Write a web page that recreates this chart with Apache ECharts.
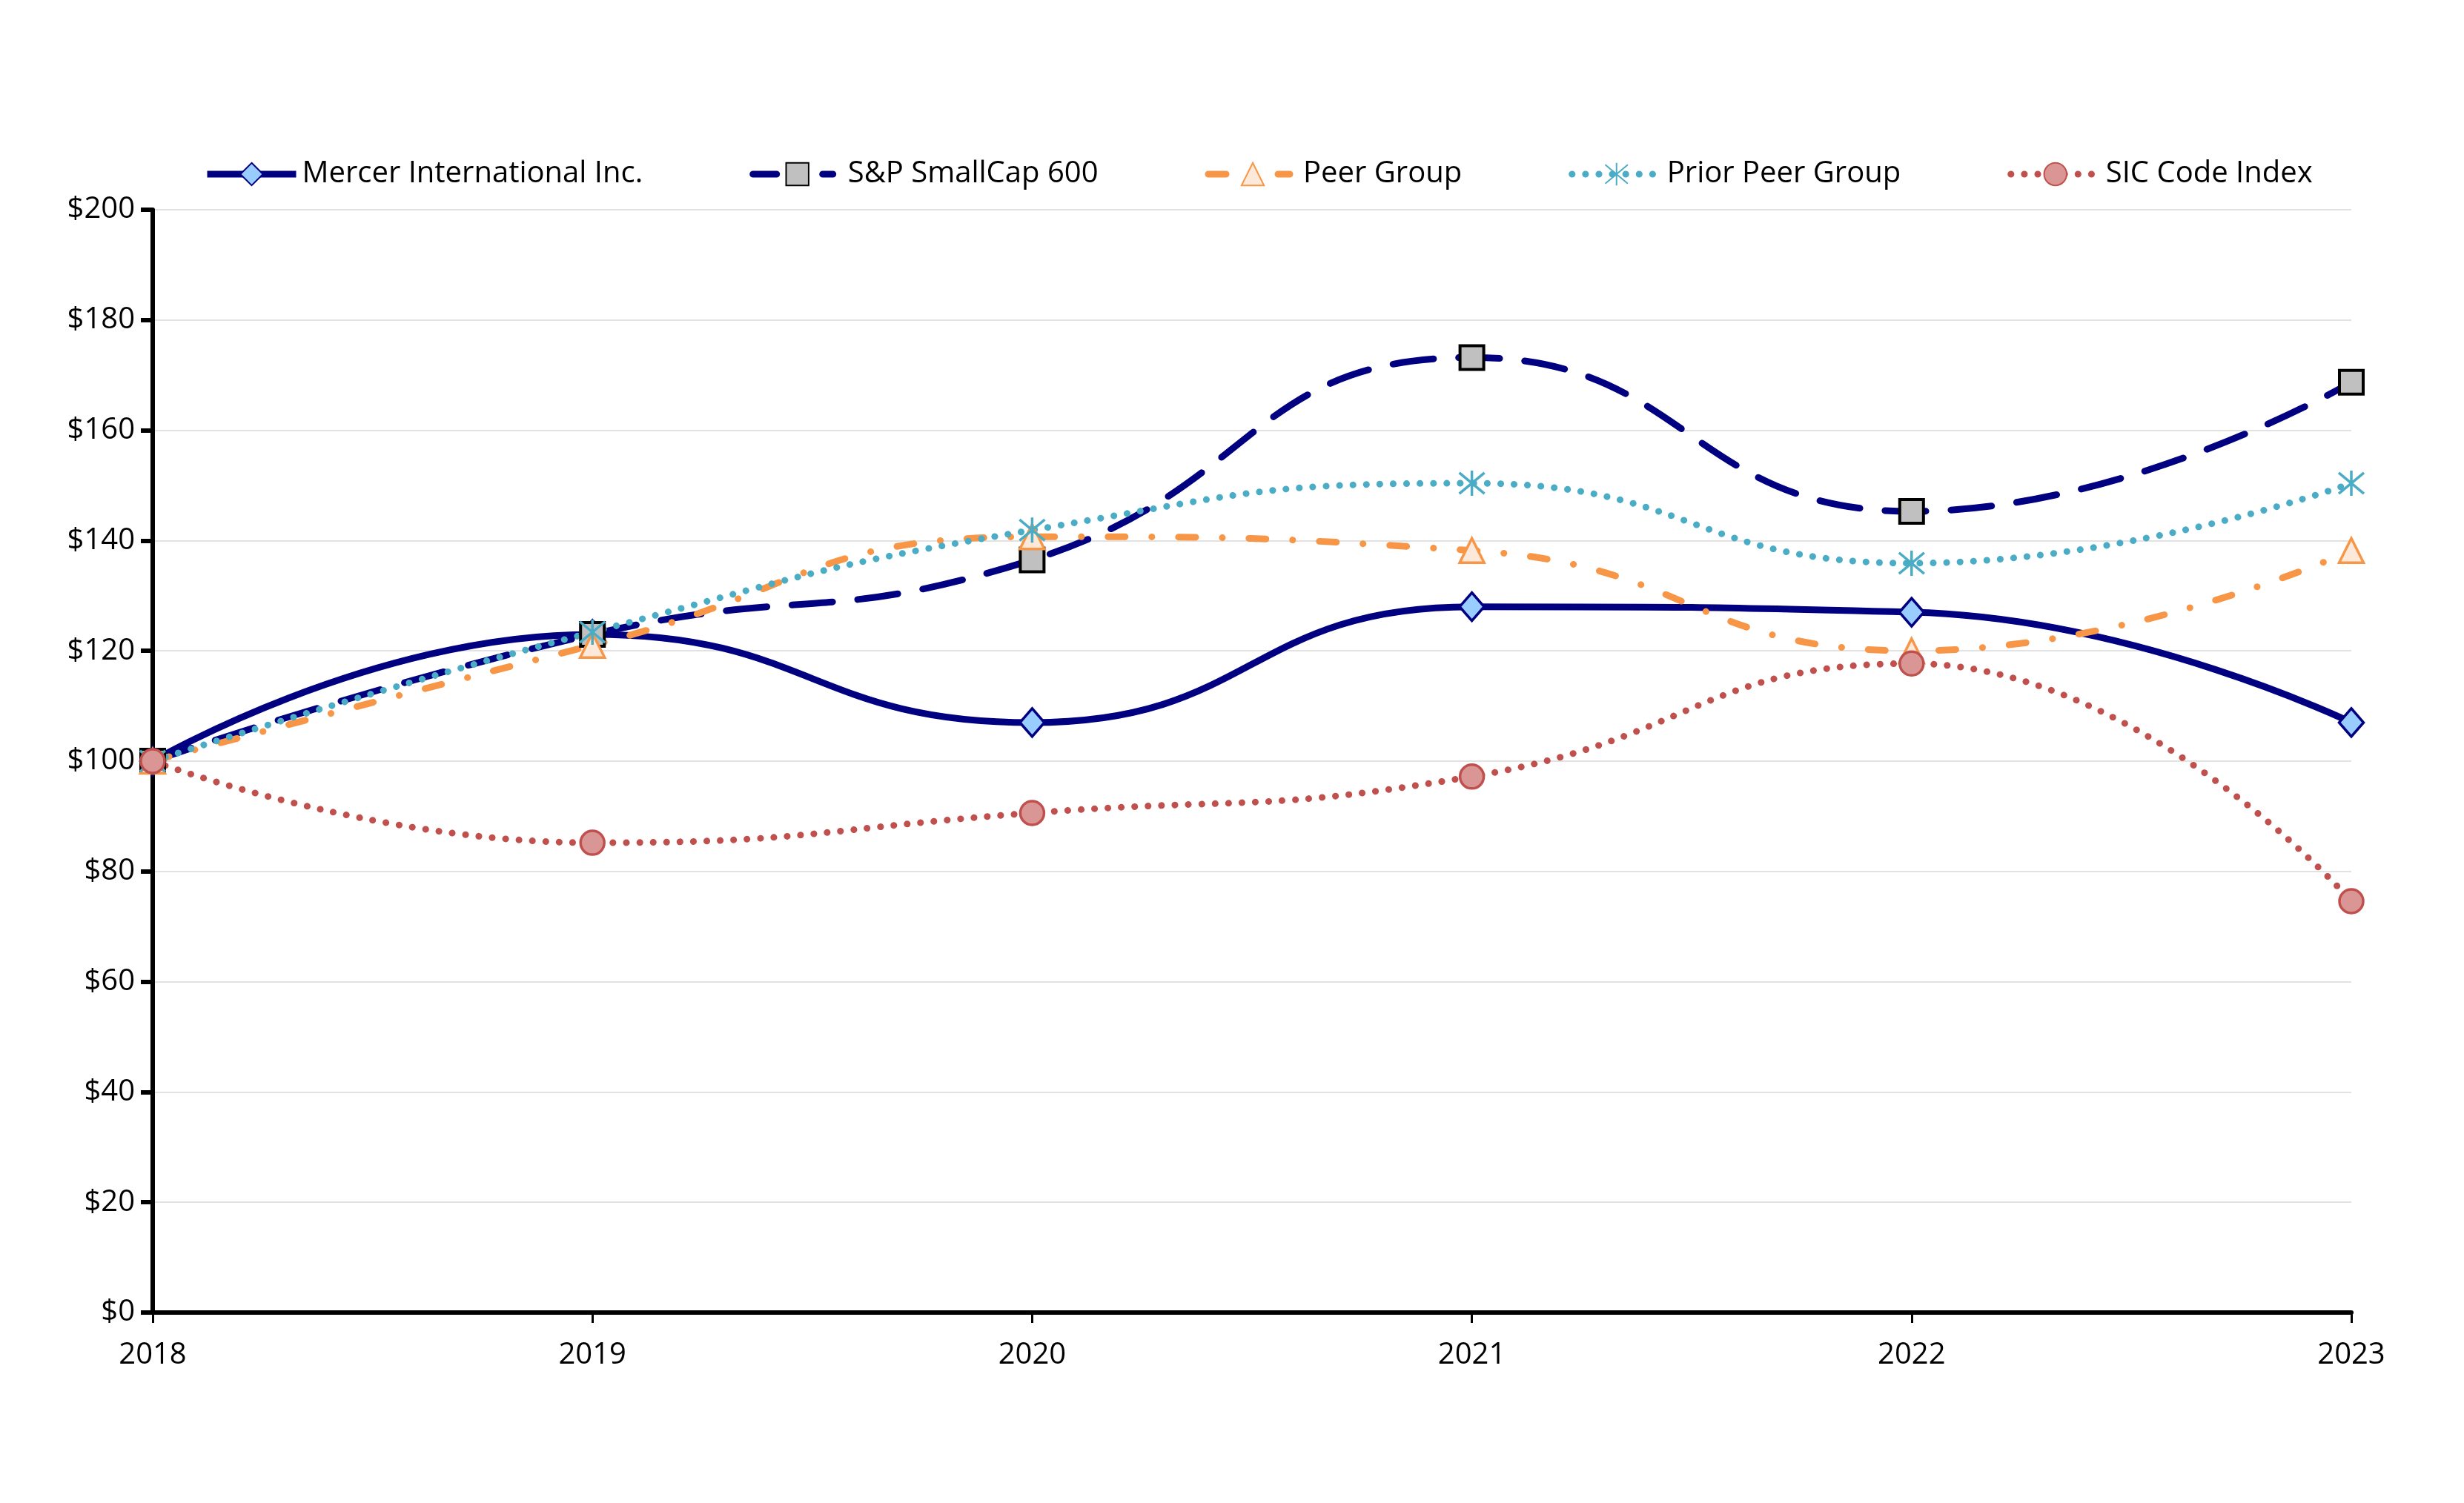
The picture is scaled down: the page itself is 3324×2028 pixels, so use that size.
<!DOCTYPE html>
<html>
<head>
<meta charset="utf-8">
<script src="https://cdn.jsdelivr.net/npm/echarts@6/dist/echarts.min.js"></script>
<style>
html,body{margin:0;padding:0;background:#fff;}
#chart{width:3324px;height:2028px;}
</style>
</head>
<body>
<div id="chart"></div>
<script>
const years = ['2018','2019','2020','2021','2022','2023'];
const mercer = [100, 123, 107, 128, 127, 107];
const spSmallCap = [100, 123, 136.5, 173.2, 145.3, 168.7];
const peerGroup = [100, 121, 140.7, 138.2, 120, 138.2];
const priorPeerGroup = [100, 123.4, 141.9, 150.4, 135.9, 150.4];
const sicCodeIndex = [100, 85.2, 90.6, 97.2, 117.7, 74.6];
const seriesNames = ['Mercer International Inc.', 'S&P SmallCap 600', 'Peer Group', 'Prior Peer Group', 'SIC Code Index'];
const yTicks = {min: 0, max: 200, interval: 20};

const FONT = 'Open Sans';
const asterisk = 'path://M0,0 L20,20 M20,0 L0,20 M10,-2 L10,22';
const LW = 9;

const chart = echarts.init(document.getElementById('chart'));
chart.setOption({
  backgroundColor: '#ffffff',
  animation: false,
  textStyle: {fontFamily: FONT, color: '#000'},
  legend: {
    left: 270, top: 210,
    itemWidth: 120, itemHeight: 38,
    itemGap: 144,
    lineStyle: {width: LW},
    textStyle: {fontFamily: FONT, fontSize: 40, color: '#000', padding: [0,0,0,3]},
    data: [
      {name: seriesNames[0]},
      {name: seriesNames[1], lineStyle: {type: [32, 62, 14, 60], cap: 'round'}},
      {name: seriesNames[2], lineStyle: {type: [24, 70, 16, 100], cap: 'round'}},
      {name: seriesNames[3]},
      {name: seriesNames[4]}
    ]
  },
  grid: {left: 206, right: 152, top: 283, bottom: 257, containLabel: false},
  xAxis: {
    type: 'category', data: years, boundaryGap: false,
    axisLine: {lineStyle: {color: '#000', width: 6}},
    axisTick: {show: true, length: 14, lineStyle: {color: '#000', width: 3}, alignWithLabel: true},
    axisLabel: {fontFamily: FONT, fontSize: 40, color: '#000', margin: 38},
    splitLine: {show: false}
  },
  yAxis: {
    type: 'value', min: yTicks.min, max: yTicks.max, interval: yTicks.interval,
    axisLine: {show: true, lineStyle: {color: '#000', width: 6}},
    axisTick: {show: true, length: 16, lineStyle: {color: '#000', width: 6}},
    axisLabel: {fontFamily: FONT, fontSize: 40, color: '#000', margin: 24, formatter: v => '$' + v},
    splitLine: {show: true, lineStyle: {color: '#D9D9D9', width: 1.5}}
  },
  series: [
    {
      name: seriesNames[0], type: 'line', data: mercer, smooth: 0.5,
      symbol: 'diamond', symbolSize: [33, 38],
      lineStyle: {color: '#000080', width: LW, type: 'solid'},
      itemStyle: {color: '#99CCFF', borderColor: '#000080', borderWidth: 3.5}
    },
    {
      name: seriesNames[1], type: 'line', data: spSmallCap, smooth: 0.5,
      symbol: 'rect', symbolSize: 32,
      lineStyle: {color: '#000080', width: LW, type: [55, 34], cap: 'round'},
      itemStyle: {color: '#C0C0C0', borderColor: '#000000', borderWidth: 4}
    },
    {
      name: seriesNames[2], type: 'line', data: peerGroup, smooth: 0.5,
      symbol: 'triangle', symbolSize: [33, 33],
      lineStyle: {color: '#F79646', width: LW, type: [23, 36, 0.1, 36], cap: 'round'},
      itemStyle: {color: '#FDE9D9', borderColor: '#F79646', borderWidth: 3.5}
    },
    {
      name: seriesNames[3], type: 'line', data: priorPeerGroup, smooth: 0.5,
      symbol: asterisk, symbolSize: 34,
      lineStyle: {color: '#4BACC6', width: LW, type: [0.1, 18], cap: 'round'},
      itemStyle: {color: 'rgba(0,0,0,0)', borderColor: '#4BACC6', borderWidth: 3.5}
    },
    {
      name: seriesNames[4], type: 'line', data: sicCodeIndex, smooth: 0.5,
      symbol: 'circle', symbolSize: 32,
      lineStyle: {color: '#C0504D', width: LW, type: [0.1, 18], cap: 'round'},
      itemStyle: {color: '#DA9694', borderColor: '#C0504D', borderWidth: 3.5}
    }
  ]
});
</script>
</body>
</html>
